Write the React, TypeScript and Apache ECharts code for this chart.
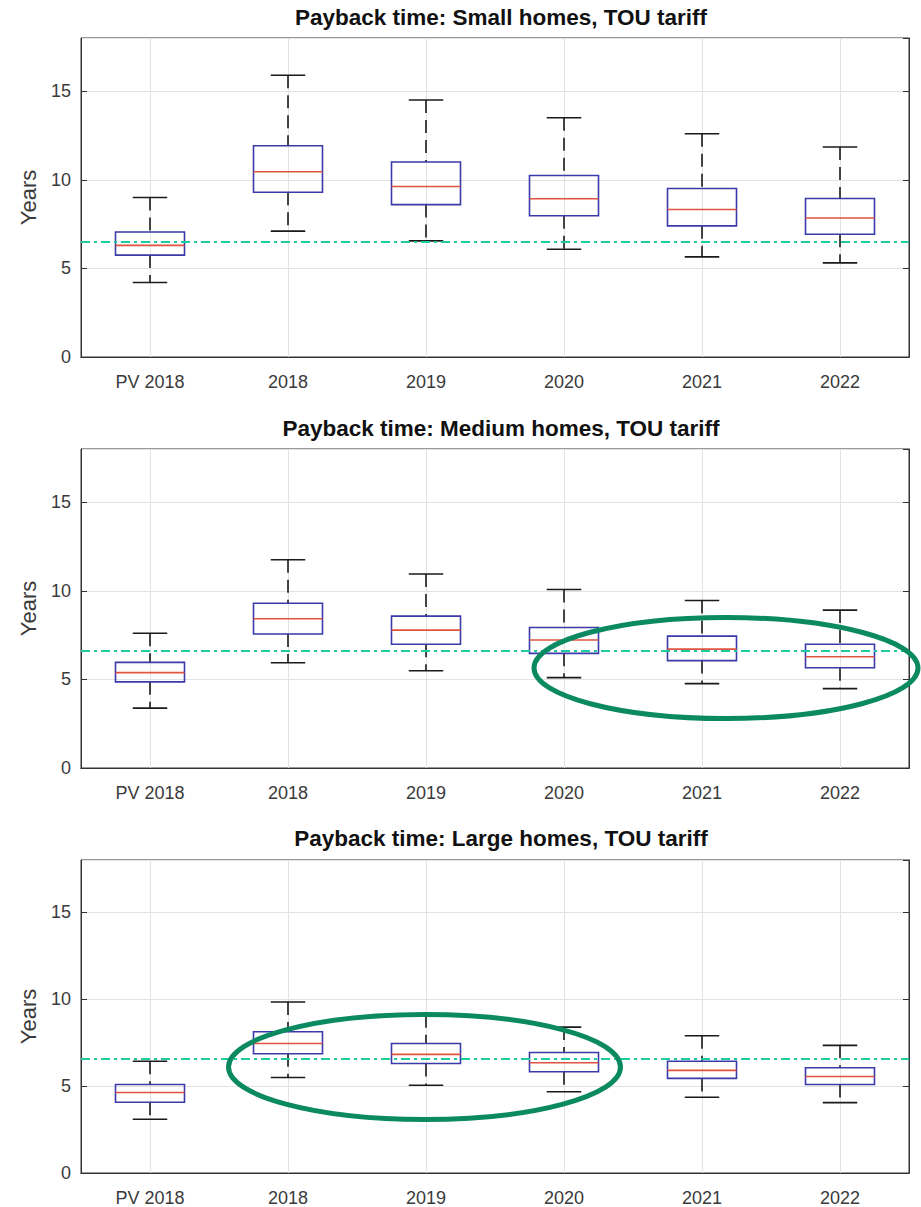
import React, { useEffect, useRef } from "react";
import * as echarts from "echarts";

const categories = ["PV 2018", "2018", "2019", "2020", "2021", "2022"];

// [min, q1, median, q3, max]
const smallHomes = [
  [4.2, 5.75, 6.3, 7.05, 9.0],
  [7.1, 9.3, 10.45, 11.92, 15.9],
  [6.55, 8.6, 9.62, 11.0, 14.5],
  [6.08, 7.97, 8.93, 10.24, 13.5],
  [5.65, 7.4, 8.32, 9.51, 12.6],
  [5.31, 6.93, 7.84, 8.94, 11.85],
];
const mediumHomes = [
  [3.38, 4.86, 5.38, 5.96, 7.6],
  [5.94, 7.56, 8.42, 9.3, 11.75],
  [5.49, 6.98, 7.78, 8.57, 10.95],
  [5.1, 6.47, 7.22, 7.93, 10.07],
  [4.76, 6.06, 6.71, 7.44, 9.45],
  [4.48, 5.66, 6.28, 6.98, 8.91],
];
const largeHomes = [
  [3.09, 4.07, 4.63, 5.09, 6.43],
  [5.49, 6.86, 7.45, 8.12, 9.83],
  [5.05, 6.3, 6.82, 7.45, 9.1],
  [4.67, 5.82, 6.34, 6.93, 8.39],
  [4.36, 5.44, 5.9, 6.43, 7.89],
  [4.05, 5.09, 5.55, 6.05, 7.34],
];
const referenceLines = [6.48, 6.62, 6.57];
const titles = [
  "Payback time: Small homes, TOU tariff",
  "Payback time: Medium homes, TOU tariff",
  "Payback time: Large homes, TOU tariff",
];
const yTicks = { min: 0, max: 18, interval: 5 };

const panels = [smallHomes, mediumHomes, largeHomes];

const gridBoxes = [
  { top: 38, height: 319 },
  { top: 449, height: 319 },
  { top: 860, height: 313 },
];
const titleTops = [1, 412, 822];

const renderBox = (params: any, api: any) => {
  const idx = api.value(0);
  const vMin = api.value(1);
  const q1 = api.value(2);
  const med = api.value(3);
  const q3 = api.value(4);
  const vMax = api.value(5);
  const pMin = api.coord([idx, vMin]);
  const pQ1 = api.coord([idx, q1]);
  const pMed = api.coord([idx, med]);
  const pQ3 = api.coord([idx, q3]);
  const pMax = api.coord([idx, vMax]);
  const cx = pMed[0];
  const bw = api.size([1, 0])[0] * 0.5;
  const cw = bw * 0.5;
  const black = { stroke: "#1a1a1a", lineWidth: 1.6 };
  return {
    type: "group",
    children: [
      {
        type: "line",
        shape: { x1: cx, y1: pMax[1], x2: cx, y2: pQ3[1] },
        style: { ...black, lineDash: [13, 7] },
      },
      {
        type: "line",
        shape: { x1: cx, y1: pQ1[1], x2: cx, y2: pMin[1] },
        style: { ...black, lineDash: [13, 7] },
      },
      {
        type: "line",
        shape: { x1: cx - cw / 2, y1: pMax[1], x2: cx + cw / 2, y2: pMax[1] },
        style: black,
      },
      {
        type: "line",
        shape: { x1: cx - cw / 2, y1: pMin[1], x2: cx + cw / 2, y2: pMin[1] },
        style: black,
      },
      {
        type: "rect",
        shape: { x: cx - bw / 2, y: pQ3[1], width: bw, height: pQ1[1] - pQ3[1] },
        style: { fill: "rgba(255,255,255,0)", stroke: "#3a3aa8", lineWidth: 1.6 },
      },
      {
        type: "line",
        shape: { x1: cx - bw / 2, y1: pMed[1], x2: cx + bw / 2, y2: pMed[1] },
        style: { stroke: "#e0533f", lineWidth: 1.6 },
      },
    ],
  };
};

export default function App() {
  const ref = useRef<HTMLDivElement>(null);
  useEffect(() => {
    document.body.style.margin = "0";
    if (!ref.current) return;
    const chart = echarts.init(ref.current, null, { renderer: "svg" });
    const textColor = "#3a3a3a";
    const grid: any[] = [];
    const xAxis: any[] = [];
    const yAxis: any[] = [];
    const series: any[] = [];
    const title: any[] = [];
    panels.forEach((data, i) => {
      grid.push({
        left: 81,
        width: 828,
        top: gridBoxes[i].top,
        height: gridBoxes[i].height,
        show: true,
        borderColor: "#333",
        borderWidth: 1,
      });
      title.push({
        text: titles[i],
        left: 496,
        top: titleTops[i],
        textAlign: "center",
        textStyle: {
          fontFamily: "Liberation Sans, Arial",
          fontWeight: "bold",
          fontSize: 22.5,
          color: "#111",
        },
      });
      xAxis.push({
        type: "category",
        gridIndex: i,
        data: categories,
        position: "bottom",
        axisLine: { lineStyle: { color: "#333", width: 1 } },
        axisTick: { inside: true, alignWithLabel: true, length: 6, lineStyle: { color: "#333" } },
        axisLabel: {
          margin: 16,
          fontSize: 18,
          color: textColor,
          fontFamily: "Liberation Sans, Arial",
        },
        splitLine: { show: true, alignWithLabel: true, lineStyle: { color: "#e2e2e2", width: 1 } },
      });
      xAxis.push({
        type: "category",
        gridIndex: i,
        data: categories,
        position: "top",
        axisLine: { show: true, lineStyle: { color: "#333", width: 1 } },
        axisTick: { inside: true, alignWithLabel: true, length: 6, lineStyle: { color: "#333" } },
        axisLabel: { show: false },
        splitLine: { show: false },
      });
      yAxis.push({
        type: "value",
        gridIndex: i,
        min: yTicks.min,
        max: yTicks.max,
        interval: yTicks.interval,
        name: "Years",
        nameLocation: "middle",
        nameRotate: 90,
        nameGap: 42,
        nameTextStyle: { fontSize: 22, color: textColor, fontFamily: "Liberation Sans, Arial" },
        axisLine: { show: true, lineStyle: { color: "#333", width: 1 } },
        axisTick: { show: true, inside: true, length: 6, lineStyle: { color: "#333" } },
        axisLabel: {
          showMaxLabel: false,
          margin: 10,
          fontSize: 18,
          color: textColor,
          fontFamily: "Liberation Sans, Arial",
        },
        splitLine: { show: true, lineStyle: { color: "#e2e2e2", width: 1 } },
      });
      yAxis.push({
        type: "value",
        gridIndex: i,
        min: yTicks.min,
        max: yTicks.max,
        interval: yTicks.interval,
        position: "right",
        axisLine: { show: true, lineStyle: { color: "#333", width: 1 } },
        axisTick: { show: true, inside: true, length: 6, lineStyle: { color: "#333" } },
        axisLabel: { show: false },
        splitLine: { show: false },
      });
      series.push({
        type: "custom",
        name: titles[i],
        xAxisIndex: i * 2,
        yAxisIndex: i * 2,
        data: data.map((d, k) => [k, ...d]),
        encode: { x: 0, y: [1, 2, 3, 4, 5] },
        renderItem: renderBox,
        z: 3,
        markLine: {
          silent: true,
          symbol: "none",
          label: { show: false },
          lineStyle: { color: "#1ccc9c", width: 2, type: [9, 4, 3, 4] },
          data: [{ yAxis: referenceLines[i] }],
        },
      });
    });

    const ellipseStyle = { fill: "rgba(0,0,0,0)", stroke: "#0b8a62", lineWidth: 5 };
    chart.setOption({
      animation: false,
      backgroundColor: "#ffffff",
      title,
      grid,
      xAxis,
      yAxis,
      series,
      graphic: [
        { type: "ellipse", shape: { cx: 726, cy: 668, rx: 192, ry: 50.5 }, style: ellipseStyle, z: 10 },
        { type: "ellipse", shape: { cx: 424.5, cy: 1067, rx: 196, ry: 52.5 }, style: ellipseStyle, z: 10 },
      ],
    });
    return () => chart.dispose();
  }, []);
  return <div ref={ref} style={{ width: 921, height: 1207 }} />;
}
